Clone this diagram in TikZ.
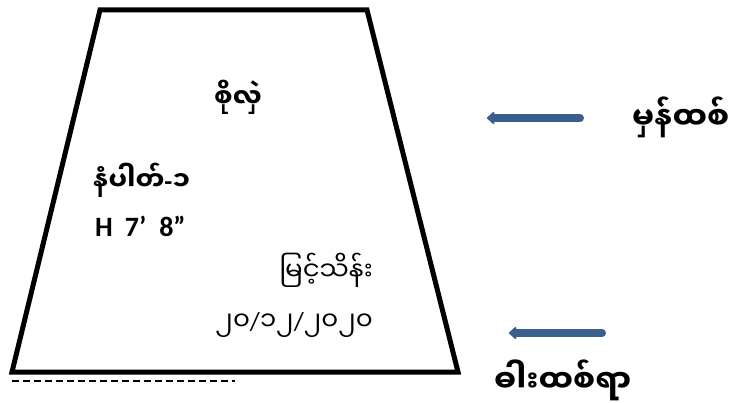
\documentclass[tikz,border=0pt]{standalone}
\usepackage{fontspec}
\newfontfamily\mya[Script=Myanmar]{Noto Sans Myanmar UI}
\newfontfamily\lat{Carlito}
\usetikzlibrary{arrows.meta}
\definecolor{arrowblue}{HTML}{3B5E8C}
\tikzset{
  x=1pt, y=-1pt,
  outline/.style={line width=5pt, line join=miter},
  mtext/.style={inner sep=0pt, font=\mya\bfseries\fontsize{26}{30}\selectfont},
  mbig/.style={inner sep=0pt, font=\mya\bfseries\fontsize{31}{34}\selectfont},
  mreg/.style={inner sep=0pt, font=\mya\fontsize{26}{30}\selectfont},
  ltext/.style={inner sep=0pt, font=\lat\bfseries\fontsize{28}{30}\selectfont},
  bluearrow/.style={draw=arrowblue, line width=8pt, line cap=round, -{Triangle[length=8pt,width=14pt,round]}},
}
\begin{document}
\begin{tikzpicture}
\useasboundingbox (0,0) rectangle (735,403);
\coordinate (tl) at (100,10);
\coordinate (tr) at (367,10);
\coordinate (br) at (458,372);
\coordinate (bl) at (12,372);
\draw[outline] (tl) -- (tr) -- (br) -- (bl) -- cycle;
\coordinate (d1) at (12,381);
\coordinate (d2) at (235,381);
\draw[line width=2.5pt, dash pattern=on 7pt off 4pt] (d1) -- (d2);
\node[mtext] (soli) at (238,97) {စိုလှဲ};
\node[mtext, anchor=west] (num) at (93,180) {နံပါတ်{\lat\bfseries -}၁};
\node[ltext, anchor=west] (h) at (95,226) {H\hspace{12pt}7’\hspace{13pt}8”};
\node[mreg, anchor=east] (name) at (373,270) {မြင့်သိန်း};
\node[mreg, anchor=east] (date) at (373,325) {၂၀{\lat /}၁၂{\lat /}၂၀၂၀};
\node[mbig, anchor=west] (mhan) at (632,117) {မှန်ထစ်};
\node[mbig, anchor=west] (dar) at (494,380) {ဓါးထစ်ရာ};
\coordinate (a1s) at (580,118);
\coordinate (a1e) at (487,118);
\coordinate (a2s) at (602,333);
\coordinate (a2e) at (509,333);
\draw[bluearrow] (a1s) -- (a1e);
\draw[bluearrow] (a2s) -- (a2e);
\end{tikzpicture}
\end{document}
